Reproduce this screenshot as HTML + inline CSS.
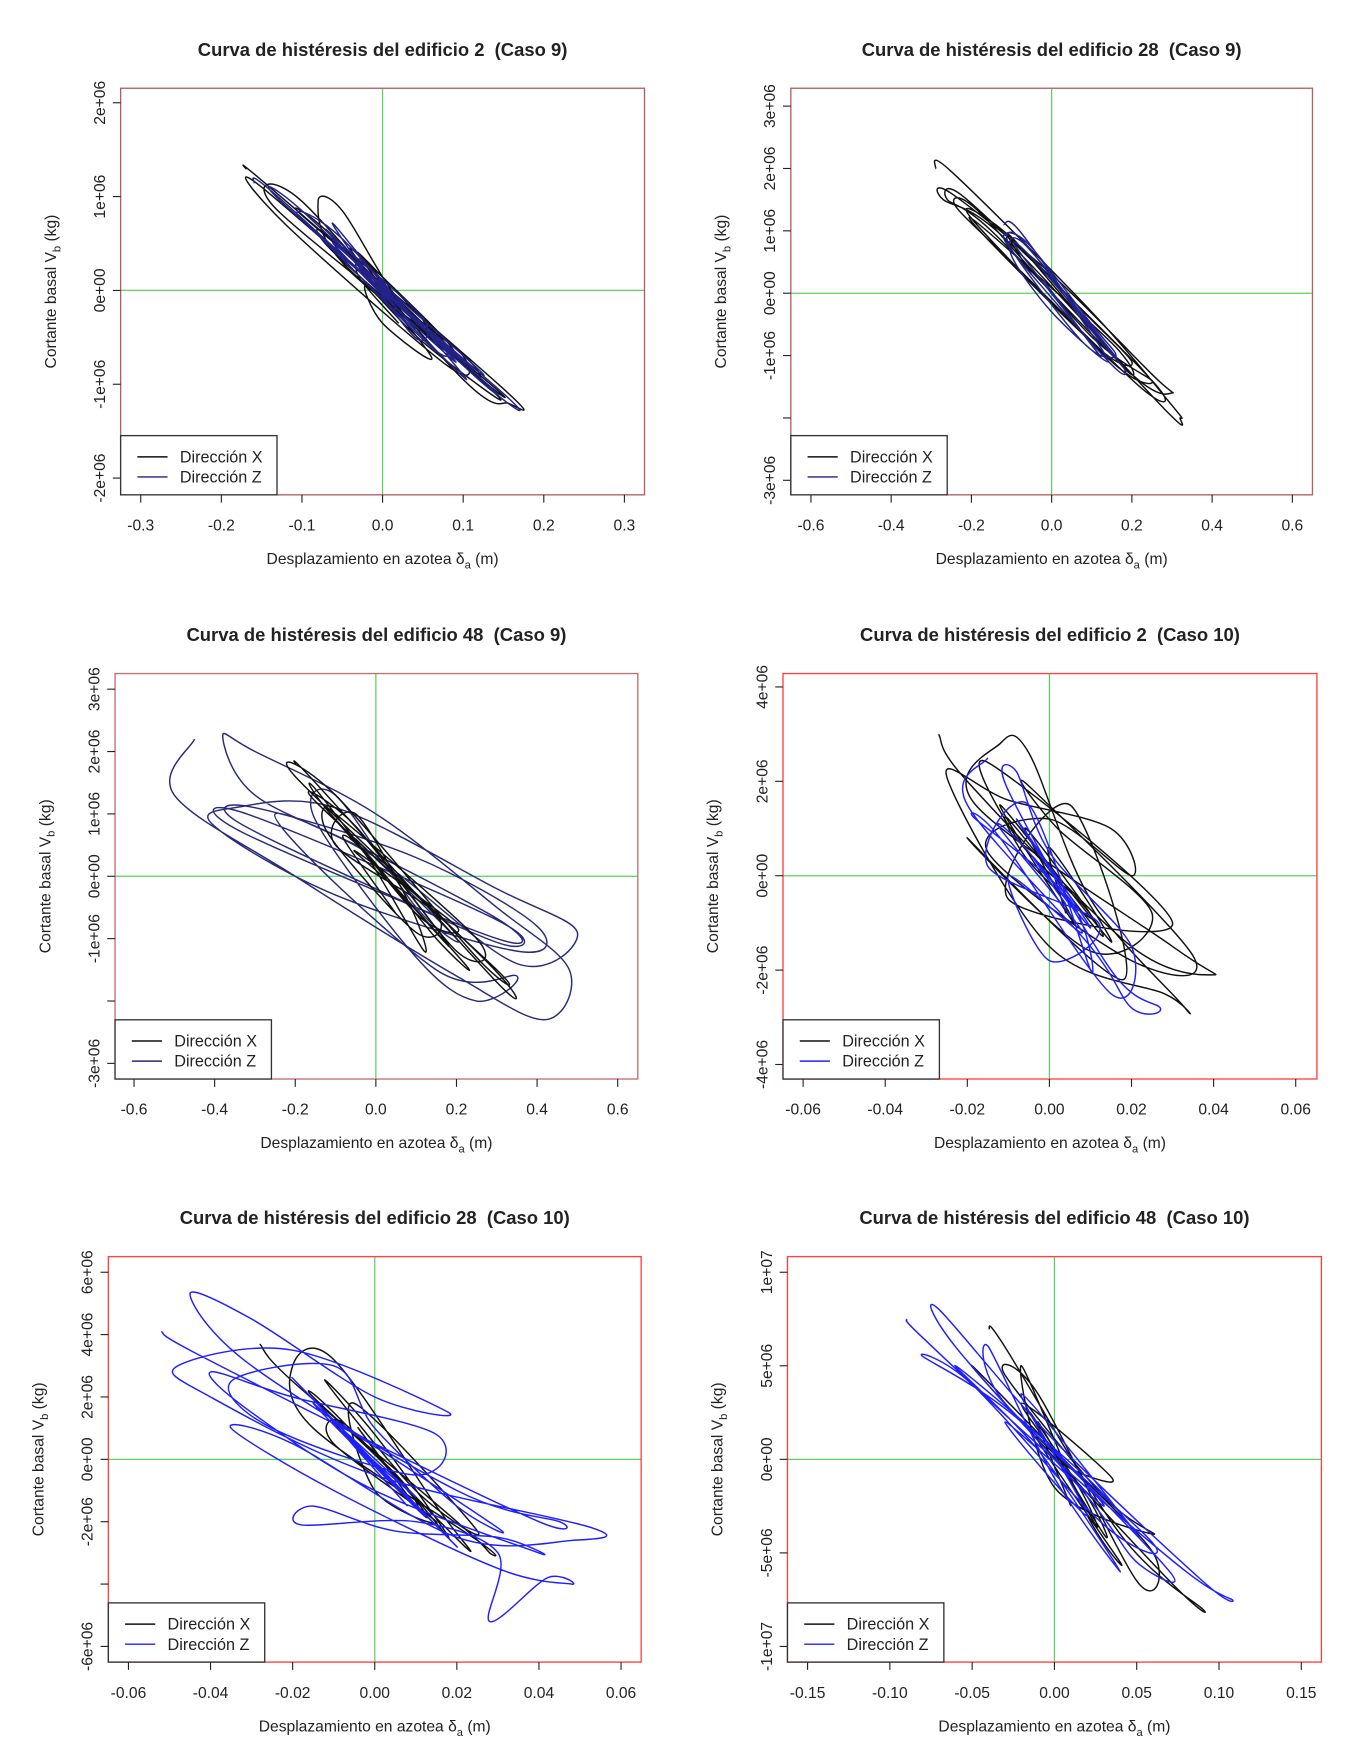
<!DOCTYPE html>
<html><head><meta charset="utf-8">
<style>
html,body{margin:0;padding:0;background:#fff;}
svg{display:block;}
text{font-family:"Liberation Sans",sans-serif;fill:#222;}
.ttl{white-space:pre;}
</style></head>
<body>
<svg id="fig" width="1351" height="1754" viewBox="0 0 1209.5 1570.3" preserveAspectRatio="none" xmlns="http://www.w3.org/2000/svg"></svg>
<script>
// ---- data (x in m, y in 1e6 kg) ----
const p1X=[[-0.17,1.3],[-0.14,1.1],[0.15,-1.05],[0.155,-1.2],[0.1,-0.95],[-0.1,0.95],[-0.13,0.85],[0.12,-0.9],[0.13,-1.0],[-0.05,0.3],[-0.08,0.95],[-0.05,0.85],[0.02,-0.1],[0.1,-0.7],[0.08,-0.8],[-0.12,0.7],[-0.15,1.1],[0.14,-1.1],[0.05,-0.55],[-0.02,0.05],[0,-0.35],[0.06,-0.7],[-0.06,0.55],[-0.1,0.8],[0.09,-0.6],[0.11,-0.85],[-0.03,0.4],[0.03,-0.3],[-0.04,0.45],[0.07,-0.45],[0.08,-0.65],[-0.06,0.4],[-0.07,0.6],[0.05,-0.35],[0.06,-0.5],[-0.04,0.2],[-0.05,0.45],[0.04,-0.2],[0.05,-0.45],[-0.02,0.3],[-0.03,0.15],[0.02,-0.35]];
const p1Z=[[-0.16,1.15],[-0.13,1.0],[0.12,-0.95],[0.15,-1.1],[-0.12,0.9],[-0.1,0.85],[0.1,-0.8],[0.13,-1.0],[-0.08,0.6],[0.05,-0.5],[0.1,-0.9],[-0.05,0.55],[-0.1,0.75],[0.08,-0.6],[0.12,-0.85],[-0.02,0.2],[0.04,-0.4],[-0.07,0.65],[0.09,-0.75],[0.0,-0.05],[-0.06,0.5],[0.07,-0.55],[0.06,-0.6],[-0.05,0.35],[-0.04,0.4],[0.05,-0.3],[0.04,-0.5],[-0.03,0.3],[-0.06,0.7],[0.03,-0.25]];
const p2X=[[-0.29,2.0],[-0.25,1.95],[0.1,-0.3],[0.3,-1.8],[0.32,-2.0],[0.28,-1.85],[-0.12,0.9],[-0.27,1.5],[-0.25,1.6],[0.0,0.3],[0.25,-1.3],[0.3,-1.6],[0.2,-1.3],[-0.15,1.0],[-0.26,1.5],[-0.22,1.55],[0.05,-0.1],[0.27,-1.55],[0.22,-1.5],[-0.1,0.5],[-0.24,1.4],[-0.18,1.3],[0.1,-0.7],[0.25,-1.4],[0.15,-1.1],[-0.2,1.2],[-0.12,1.0],[0.08,-0.3],[0.2,-1.1],[0.12,-0.9],[-0.15,0.8],[-0.18,1.1],[0.15,-0.8],[0.18,-1.2],[-0.1,0.9],[-0.05,0.3]];
const p2Z=[[-0.12,1.1],[-0.08,1.0],[0.1,-0.6],[0.18,-1.2],[0.15,-1.15],[-0.05,0.3],[-0.12,0.9],[-0.06,0.8],[0.1,-0.5],[0.16,-1.0],[0.08,-0.8],[-0.1,0.7],[-0.08,0.9],[0.05,-0.2],[0.14,-1.1],[0.0,-0.3],[-0.1,0.6],[-0.07,0.8],[0.12,-0.7],[0.15,-0.95],[-0.04,0.5],[-0.09,0.75],[0.06,-0.5],[0.12,-1.0],[-0.02,0.2]];
const p3X=[[-0.2,1.8],[-0.15,1.5],[0.3,-1.7],[0.28,-1.4],[-0.2,1.6],[-0.1,1.3],[0.25,-1.3],[0.3,-1.5],[-0.15,1.2],[-0.05,0.8],[0.2,-1.2],[0.25,-1.0],[-0.12,1.1],[0.0,0.2],[0.15,-1.0],[0.22,-1.4],[-0.1,0.9],[-0.15,1.4],[0.1,-0.6],[0.2,-0.8],[-0.05,0.4],[0.05,-0.2],[0.18,-1.1],[-0.08,1.0],[-0.12,0.7],[0.1,-0.9],[0.15,-0.6],[-0.1,0.5],[-0.05,1.0],[0.08,-0.4],[0.12,-1.2],[-0.02,0.3],[-0.08,0.6],[0.05,-0.6]];
const p3Z=[[-0.45,2.2],[-0.5,1.3],[-0.2,0],[0.2,-1.6],[0.42,-2.3],[0.48,-1.5],[0.3,-0.5],[0,1],[-0.3,2.0],[-0.38,2.25],[-0.3,1.3],[0.0,0.3],[0.35,-1.4],[0.5,-0.9],[0.3,-0.2],[-0.1,1.1],[-0.35,1.1],[-0.4,0.8],[-0.1,-0.3],[0.35,-1.2],[0.4,-0.8],[0.1,0.3],[-0.3,1.1],[-0.35,0.9],[0.0,-0.2],[0.32,-1.1],[0.3,-0.7],[-0.32,1.0],[-0.33,0.7],[0.3,-1.0],[0.28,-0.6],[-0.25,1.0],[0.15,-1.5],[0.35,-1.6],[0.25,-2.0],[0.1,-1.3],[-0.15,0.9],[-0.1,1.3],[0.1,-0.5],[0.2,-1.0],[-0.05,0.6]];
const p4X=[[-0.027,3.0],[-0.02,2.0],[0.02,-1.5],[0.04,-2.1],[0.03,-1.5],[-0.018,1.5],[-0.012,2.8],[-0.005,2.6],[0.01,-0.5],[0.033,-2.8],[0.028,-2.5],[0.0,-1.5],[-0.025,2.1],[-0.01,1.6],[0.015,1.0],[0.02,0.0],[0.0,1.2],[-0.015,0.5],[0.02,-1.8],[0.035,-1.7],[-0.005,1.9],[0.002,1.0],[0.025,-0.8],[0.01,-1.6],[-0.02,0.8],[0.018,-2.2],[0.005,1.5],[-0.01,-0.5],[0.03,-1.0],[-0.015,2.4],[-0.008,0.8],[0.008,-0.6],[0.012,-1.2],[-0.01,1.2],[-0.005,0.3],[0.01,-0.9],[0.005,-0.2],[-0.006,1.0],[0.006,-1.0],[-0.012,1.5],[0.015,-1.4],[0.0,0.6],[0.004,-0.8]];
const p4Z=[[-0.015,2.5],[-0.02,1.5],[0.01,-1.5],[0.02,-2.8],[0.027,-2.8],[0.015,-2.0],[-0.01,1.8],[-0.008,2.2],[0.0,0.5],[0.02,-1.5],[0.015,-2.5],[-0.012,0.8],[-0.018,1.2],[0.005,-0.5],[0.01,-2.0],[-0.005,1.5],[-0.015,0.2],[0.012,-1.0],[0.0,-1.8],[-0.01,0.0],[0.008,-1.2],[-0.012,1.0],[-0.006,0.6],[0.006,-0.7],[-0.008,1.2],[0.01,-1.1],[-0.004,0.4],[0.004,-0.6]];
const p5X=[[-0.028,3.7],[-0.02,2.5],[0.02,-2.0],[0.028,-3.0],[0.025,-2.6],[-0.015,1.0],[-0.02,3.0],[-0.01,3.2],[0.015,-1.5],[0.022,-2.8],[-0.01,1.5],[-0.015,2.0],[0.005,-0.5],[0.018,-2.5],[0.0,0.8],[-0.012,2.5],[0.01,-1.0],[0.025,-2.3],[-0.005,1.8],[0.0,-1.0],[0.015,-2.0],[-0.01,0.5],[-0.008,1.2],[0.008,-1.0],[0.012,-1.8],[-0.006,0.6],[-0.012,1.6],[0.006,-0.6],[0.01,-1.5],[-0.004,1.0],[0.004,-0.4]];
const p5Z=[[-0.052,4.1],[-0.045,3.5],[0.0,0.5],[0.04,-2.0],[0.045,-2.0],[0.02,-1.0],[-0.03,3.0],[-0.045,5.3],[-0.03,4.5],[0.0,2.0],[0.018,1.5],[-0.02,3.5],[-0.048,3.0],[-0.04,2.0],[0.0,-0.5],[0.053,-2.2],[0.048,-2.6],[0.02,-2.5],[-0.02,0.5],[-0.035,1.0],[-0.01,-1.0],[0.03,-3.5],[0.048,-4.0],[0.042,-3.8],[0.028,-5.2],[0.03,-3.0],[0.01,-2.0],[-0.018,-2.1],[-0.015,-1.5],[0.005,-2.3],[0.03,-2.5],[0.04,-3.0],[0.0,-1.0],[-0.03,1.5],[-0.04,2.8],[-0.02,2.0],[0.015,0.8],[0.01,-0.5],[-0.025,1.0],[-0.035,2.5],[-0.01,3.0],[0.0,1.0],[0.02,-1.5],[0.03,-2.2],[-0.01,1.2],[0.01,-1.2],[-0.015,1.8],[0.012,-1.8],[-0.005,0.5],[0.005,-0.8],[-0.02,2.6],[0.02,-2.8],[-0.008,0.9],[0.008,-1.5]];
const p6X=[[-0.04,7.0],[-0.03,6.0],[0.04,-4.0],[0.09,-8.0],[0.07,-6.5],[-0.02,2.0],[-0.05,5.0],[0.0,0.5],[0.06,-5.0],[0.05,-6.5],[-0.01,3.5],[-0.03,4.5],[0.03,-2.0],[0.06,-4.0],[0.0,-1.5],[-0.02,5.0],[0.02,-3.0],[0.04,-5.5],[-0.01,1.0],[0.01,-0.5],[0.035,-1.0],[-0.02,3.0],[0.02,-2.0],[0.03,-4.0],[-0.015,2.5],[0.015,-1.5],[0.025,-3.5],[-0.01,2.0],[0.01,-2.5]];
const p6Z=[[-0.09,7.5],[-0.08,6.5],[0.0,0.0],[0.08,-6.0],[0.108,-7.5],[0.09,-6.5],[0.0,1.0],[-0.07,8.0],[-0.06,6.0],[0.02,-2.0],[0.05,-5.5],[0.07,-6.0],[-0.02,2.0],[-0.08,5.5],[-0.05,4.0],[0.03,-3.5],[0.06,-4.5],[-0.03,3.0],[-0.04,6.0],[0.0,-1.0],[0.04,-6.0],[-0.01,0.5],[-0.06,5.0],[0.02,-1.0],[0.05,-4.0],[-0.02,3.5],[0.02,-3.0],[-0.03,2.0],[0.03,-2.5],[-0.01,1.5]];
const xt1=[-0.3,-0.2,-0.1,0,0.1,0.2,0.3], xl1=["-0.3","-0.2","-0.1","0.0","0.1","0.2","0.3"];
const yt1=[2,1,0,-1,-2], yl1=["2e+06","1e+06","0e+00","-1e+06","-2e+06"];
const xt2=[-0.6,-0.4,-0.2,0,0.2,0.4,0.6], xl2=["-0.6","-0.4","-0.2","0.0","0.2","0.4","0.6"];
const yt2=[3,2,1,0,-1,-2,-3], yl2=["3e+06","2e+06","1e+06","0e+00","-1e+06","","-3e+06"];
const xt4=[-0.06,-0.04,-0.02,0,0.02,0.04,0.06], xl4=["-0.06","-0.04","-0.02","0.00","0.02","0.04","0.06"];
const yt4=[4,2,0,-2,-4], yl4=["4e+06","2e+06","0e+00","-2e+06","-4e+06"];
const yt5=[6,4,2,0,-2,-4,-6], yl5=["6e+06","4e+06","2e+06","0e+00","-2e+06","","-6e+06"];
const xt6=[-0.15,-0.1,-0.05,0,0.05,0.1,0.15], xl6=["-0.15","-0.10","-0.05","0.00","0.05","0.10","0.15"];
const yt6=[10,5,0,-5,-10], yl6=["1e+07","5e+06","0e+00","-5e+06","-1e+07"];

const NS="http://www.w3.org/2000/svg";
const svg=document.getElementById('fig');
function mk(tag,attrs,parent){const e=document.createElementNS(NS,tag);for(const k in attrs)e.setAttribute(k,attrs[k]);(parent||svg).appendChild(e);return e;}
function smooth(pts){let d="M"+pts[0][0].toFixed(1)+","+pts[0][1].toFixed(1);
 for(let i=0;i<pts.length-1;i++){const p0=pts[Math.max(0,i-1)],p1=pts[i],p2=pts[i+1],p3=pts[Math.min(pts.length-1,i+2)];
  const c1=[p1[0]+(p2[0]-p0[0])/6,p1[1]+(p2[1]-p0[1])/6],c2=[p2[0]-(p3[0]-p1[0])/6,p2[1]-(p3[1]-p1[1])/6];
  d+=" C"+c1.map(v=>v.toFixed(1))+" "+c2.map(v=>v.toFixed(1))+" "+p2.map(v=>v.toFixed(1));}
 return d;}
function panel(o){
 const g=mk('g',{});
 
 
 const sx=v=>o.x0px+(v-o.xa)/(o.xb-o.xa)*(o.x1px-o.x0px);
 const sy=v=>o.y0px+(v-o.ya)/(o.yb-o.ya)*(o.y1px-o.y0px);
 const t=mk('text',{x:(o.L+o.R)/2,y:o.T-29,'text-anchor':'middle','font-size':16.5,'font-weight':'bold','class':'ttl'},g);t.textContent=o.title;
 
 const gv=mk('line',{x1:sx(0),x2:sx(0),y1:o.T,y2:o.B,stroke:'#5fcf5f','stroke-width':1.1},g);
 
 const gh=mk('line',{x1:o.L,x2:o.R,y1:sy(0),y2:sy(0),stroke:'#5fcf5f','stroke-width':1.1},g);
 
 const toPx=a=>a.map(p=>[sx(p[0]),sy(p[1])]);
 const order=o.zFirst?[['z',o.Z,o.zc],['x',o.X,'#111']]:[['x',o.X,'#111'],['z',o.Z,o.zc]];
 order.forEach(s=>{const pa=mk('path',{d:smooth(toPx(s[1])),fill:'none',stroke:s[2],'stroke-width':1.3},g);
  });
 const bx=mk('rect',{x:o.L,y:o.T,width:o.R-o.L,height:o.B-o.T,fill:'none',stroke:o.bc,'stroke-width':1.2},g);
 
 o.xt.forEach((v,i)=>{const X=sx(v);
  const tk=mk('line',{x1:X,x2:X,y1:o.B,y2:o.B+7,stroke:'#222'},g);
  
  const tl=mk('text',{x:X,y:o.B+32,'text-anchor':'middle','font-size':14},g);tl.textContent=o.xl[i];
  });
 o.yt.forEach((v,i)=>{const Y=sy(v);
  const tk=mk('line',{x1:o.L-7,x2:o.L,y1:Y,y2:Y,stroke:'#222'},g);
  
  if(o.yl[i]){const tl=mk('text',{x:0,y:0,'text-anchor':'middle','font-size':14,transform:`translate(${o.L-14},${Y}) rotate(-90)`},g);tl.textContent=o.yl[i];
  }});
 const xl=mk('text',{x:(o.L+o.R)/2,y:o.B+62,'text-anchor':'middle','font-size':14},g);
 xl.innerHTML='Desplazamiento en azotea δ<tspan font-size="10" dy="4">a</tspan><tspan dy="-4"> (m)</tspan>';
 
 const yl=mk('text',{x:0,y:0,'text-anchor':'middle','font-size':14,transform:`translate(${o.L-58},${(o.T+o.B)/2}) rotate(-90)`},g);
 yl.innerHTML='Cortante basal V<tspan font-size="10" dy="4">b</tspan><tspan dy="-4"> (kg)</tspan>';
 
 const lg=mk('g',{},g);
 mk('rect',{x:o.L,y:o.B-53,width:140,height:53,fill:'#fff',stroke:'#333','stroke-width':1.2},lg);
 [['Dirección X','#111',o.B-34],['Dirección Z',o.zc,o.B-16]].forEach(r=>{
  const ln=mk('line',{x1:o.L+15,x2:o.L+42,y1:r[2],y2:r[2],stroke:r[1],'stroke-width':1.3},lg);
  
  const tx=mk('text',{x:o.L+53,y:r[2]+5,'font-size':14.5},lg);tx.textContent=r[0];
  });
}
panel({name:'chart-edificio-2-caso-9',title:'Curva de histéresis del edificio 2  (Caso 9)',L:108,R:577,T:79,B:443,xa:-0.3,xb:0.3,x0px:126,x1px:559,ya:2,yb:-2,y0px:92,y1px:428,xt:xt1,xl:xl1,yt:yt1,yl:yl1,X:p1X,Z:p1Z,zc:'#22228a',bc:'#b06060'});
panel({name:'chart-edificio-28-caso-9',title:'Curva de histéresis del edificio 28  (Caso 9)',L:708,R:1175,T:79,B:443,xa:-0.6,xb:0.6,x0px:726,x1px:1157,ya:3,yb:-3,y0px:95,y1px:430,xt:xt2,xl:xl2,yt:yt2,yl:yl2,X:p2X,Z:p2Z,zc:'#22228a',bc:'#b06060'});
panel({name:'chart-edificio-48-caso-9',title:'Curva de histéresis del edificio 48  (Caso 9)',L:103,R:571,T:603,B:966,xa:-0.6,xb:0.6,x0px:120,x1px:553,ya:3,yb:-3,y0px:617,y1px:952,xt:xt2,xl:xl2,yt:yt2,yl:yl2,X:p3X,Z:p3Z,zc:'#2a2a7a',bc:'#c07070',zFirst:true});
panel({name:'chart-edificio-2-caso-10',title:'Curva de histéresis del edificio 2  (Caso 10)',L:701,R:1179,T:603,B:966,xa:-0.06,xb:0.06,x0px:719,x1px:1160,ya:4,yb:-4,y0px:615,y1px:953,xt:xt4,xl:xl4,yt:yt4,yl:yl4,X:p4X,Z:p4Z,zc:'#2020ff',bc:'#ff4040'});
panel({name:'chart-edificio-28-caso-10',title:'Curva de histéresis del edificio 28  (Caso 10)',L:97,R:574,T:1125,B:1488,xa:-0.06,xb:0.06,x0px:115,x1px:556,ya:6,yb:-6,y0px:1139,y1px:1474,xt:xt4,xl:xl4,yt:yt5,yl:yl5,X:p5X,Z:p5Z,zc:'#2020ff',bc:'#ff4040'});
panel({name:'chart-edificio-48-caso-10',title:'Curva de histéresis del edificio 48  (Caso 10)',L:705,R:1183,T:1125,B:1488,xa:-0.15,xb:0.15,x0px:723,x1px:1165,ya:10,yb:-10,y0px:1139,y1px:1474,xt:xt6,xl:xl6,yt:yt6,yl:yl6,X:p6X,Z:p6Z,zc:'#2020ff',bc:'#ff4040'});
</script>
</body></html>
